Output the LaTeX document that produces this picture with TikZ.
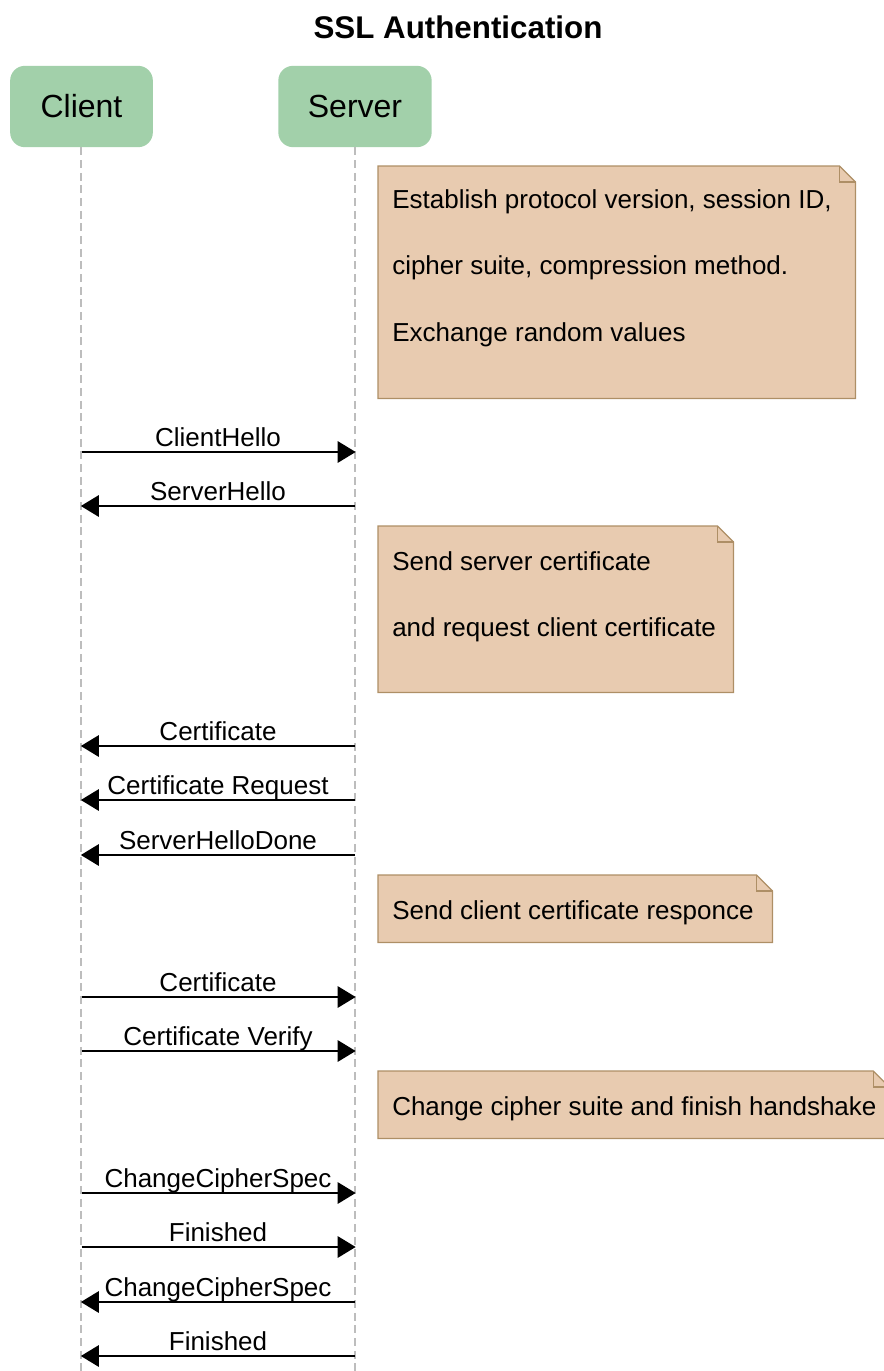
\documentclass[tikz,border=0pt]{standalone}
\usepackage{fontspec}
\setmainfont{Liberation Sans}
\usetikzlibrary{arrows.meta}

\definecolor{actorfill}{HTML}{A2D0AA}
\definecolor{notefill}{HTML}{E8CBB0}
\definecolor{noteline}{HTML}{AE8F66}
\definecolor{lifegray}{HTML}{BDBDBD}

\tikzset{
  actor/.style={fill=actorfill, rounded corners=11pt, minimum width=107pt,
    minimum height=61pt, inner sep=0pt, font=\fontsize{24}{28}\selectfont},
  lifeline/.style={draw=lifegray, line width=0.8pt, dash pattern=on 6pt off 3.5pt},
  msg/.style={line width=1.5pt, -{Triangle[length=13.5pt,width=16pt]}, shorten >=-0.5pt},
  msglabel/.style={anchor=base, inner sep=0pt, font=\fontsize{19.5}{22}\selectfont},
  notebox/.style={anchor=north west, inner sep=0pt},
  notebody/.style={fill=notefill, draw=noteline, line width=1pt},
  notetext/.style={anchor=base west, inner sep=0pt,
    font=\fontsize{19.5}{22}\selectfont},
}

% folded-corner note drawn around a named box
\newcommand{\drawnote}[1]{%
  \draw[notebody] (#1.south west) -- (#1.north west) -- ([xshift=-12pt]#1.north east)
    -- ([yshift=-12pt]#1.north east) -- (#1.south east) -- cycle;
  \draw[noteline, line width=1pt] ([xshift=-12pt]#1.north east) |- ([yshift=-12pt]#1.north east);
}

\begin{document}
\begin{tikzpicture}[x=0.75pt, y=-0.75pt]
\useasboundingbox (0,0) rectangle (883,1371);

\node[font=\bfseries\fontsize{23.5}{28}\selectfont] (title) at (458,27) {SSL Authentication};

\node[actor, minimum width=107pt] (client) at (81.5,106.5) {Client};
\node[actor, minimum width=115pt] (server) at (355,106.5) {Server};

\coordinate (clientend) at (81,1371);
\coordinate (serverend) at (355,1371);
\draw[lifeline] (client.south -| 81,0) -- (clientend);
\draw[lifeline] (server.south) -- (serverend);

% notes
\node[notebox, minimum width=357.75pt, minimum height=174pt] (n1) at (378,166) {};
\drawnote{n1}
\node[notetext] (t1a) at (392,208) {Establish protocol version, session ID,};
\node[notetext] (t1b) at (392,274.5) {cipher suite, compression method.};
\node[notetext] (t1c) at (392,341) {Exchange random values};

\node[notebox, minimum width=266.25pt, minimum height=124.5pt] (n2) at (378,526) {};
\drawnote{n2}
\node[notetext] (t2a) at (392,570) {Send server certificate};
\node[notetext] (t2b) at (392,636.5) {and request client certificate};

\node[notebox, minimum width=295.5pt, minimum height=50.25pt] (n3) at (378,875) {};
\drawnote{n3}
\node[notetext] (t3) at (392,919) {Send client certificate responce};

\node[notebox, minimum width=383pt, minimum height=50.25pt] (n4) at (378,1071) {};
\drawnote{n4}
\node[notetext] (t4) at (392,1115) {Change cipher suite and finish handshake};

% messages
\draw[msg] (client |- 0,452) -- (server |- 0,452);
\node[msglabel] (m1) at (218,446) {ClientHello};
\draw[msg] (server |- 0,506) -- (client |- 0,506);
\node[msglabel] (m2) at (218,500) {ServerHello};

\draw[msg] (server |- 0,746) -- (client |- 0,746);
\node[msglabel] (m3) at (218,740) {Certificate};
\draw[msg] (server |- 0,800) -- (client |- 0,800);
\node[msglabel] (m4) at (218,794) {Certificate Request};
\draw[msg] (server |- 0,855) -- (client |- 0,855);
\node[msglabel] (m5) at (218,849) {ServerHelloDone};

\draw[msg] (client |- 0,997) -- (server |- 0,997);
\node[msglabel] (m6) at (218,991) {Certificate};
\draw[msg] (client |- 0,1051) -- (server |- 0,1051);
\node[msglabel] (m7) at (218,1045) {Certificate Verify};

\draw[msg] (client |- 0,1193) -- (server |- 0,1193);
\node[msglabel] (m8) at (218,1187) {ChangeCipherSpec};
\draw[msg] (client |- 0,1247) -- (server |- 0,1247);
\node[msglabel] (m9) at (218,1241) {Finished};
\draw[msg] (server |- 0,1302) -- (client |- 0,1302);
\node[msglabel] (m10) at (218,1296) {ChangeCipherSpec};
\draw[msg] (server |- 0,1356) -- (client |- 0,1356);
\node[msglabel] (m11) at (218,1350) {Finished};
\end{tikzpicture}
\end{document}
